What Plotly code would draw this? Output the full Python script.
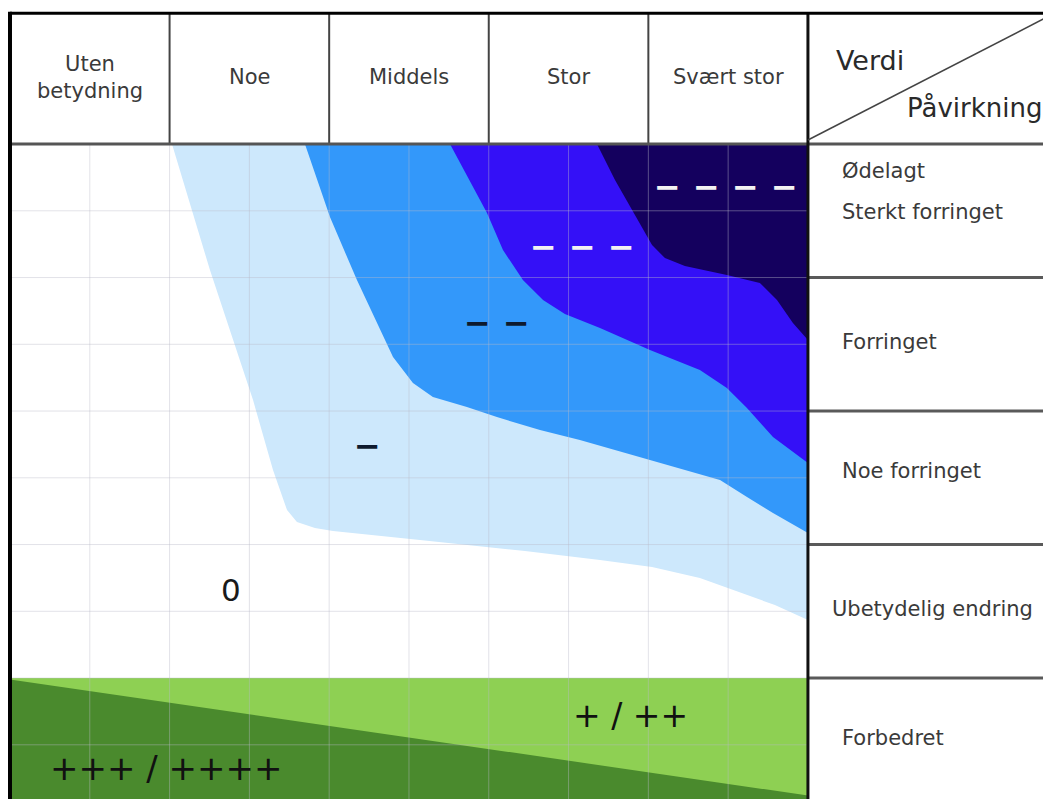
import plotly.graph_objects as go

# ---------------- data ----------------
impact_labels = ["Uten<br>betydning", "Noe", "Middels", "Stor", "Svært stor"]
value_labels = ["Ødelagt", "Sterkt forringet", "Forringet", "Noe forringet",
                "Ubetydelig endring", "Forbedret"]
value_label_y = [4.80, 4.49, 3.52, 2.55, 1.52, 0.55]

# boundaries of the fan (x: impact columns 0..5, y: value rows, 5 = top)
light_x = [1.015, 1.253, 1.523, 1.648, 1.736, 1.798, 1.911, 2.024, 2.569, 3.227,
           3.697, 4.023, 4.323, 4.574, 4.793, 5.0]
light_y = [5.0, 4.056, 3.082, 2.558, 2.258, 2.169, 2.124, 2.101, 2.034, 1.951,
           1.884, 1.831, 1.749, 1.644, 1.547, 1.434]

medium_x = [1.848, 2.005, 2.174, 2.299, 2.400, 2.525, 2.650, 2.863, 3.051, 3.321,
            3.571, 4.010, 4.449, 4.618, 4.781, 5.0]
medium_y = [5.0, 4.453, 3.981, 3.659, 3.404, 3.210, 3.105, 3.030, 2.955, 2.858,
            2.783, 2.633, 2.483, 2.356, 2.236, 2.086]

strong_x = [2.757, 2.989, 3.089, 3.214, 3.340, 3.477, 3.697, 4.010, 4.323, 4.492,
            4.618, 4.781, 5.0]
strong_y = [5.0, 4.483, 4.206, 3.981, 3.831, 3.727, 3.622, 3.457, 3.307, 3.172,
            3.022, 2.805, 2.610]

severe_x = [3.678, 3.791, 3.916, 4.023, 4.104, 4.229, 4.492, 4.699, 4.806, 4.906, 5.0]
severe_y = [5.0, 4.730, 4.468, 4.243, 4.146, 4.086, 4.019, 3.959, 3.831, 3.659, 3.532]

improve_x = [0, 5, 5, 0]
improve_y = [1.0, 1.0, 0.0, 0.0]
strong_improve_x = [0, 5, 5, 0]
strong_improve_y = [0.99, 0.12, 0.0, 0.0]

SP = "\u2008"
grade_text = ["−" + SP + "−" + SP + "−" + SP + "−", "−" + SP + "−" + SP + "−",
              "−" + SP + "−", "−", "0", "+ / ++", "+++ / ++++"]
grade_x = [4.486, 3.590, 3.051, 2.243, 1.385, 3.891, 0.981]
grade_y = [4.678, 4.228, 3.659, 2.738, 1.659, 0.723, 0.326]

# ---------------- styles ----------------
C_LIGHT = "#CDE8FC"
C_MED = "#3398FA"
C_STRONG = "#3410F7"
C_SEVERE = "#14005E"
C_GREEN_L = "#8ED053"
C_GREEN_D = "#4A8A2D"
FONT = "DejaVu Sans"

X_MAX = 6.523
Y_TOP = 5.98

fig = go.Figure()

def add_fill(xs, ys, color):
    fig.add_trace(go.Scatter(x=xs, y=ys, mode="lines", fill="toself",
                             fillcolor=color, line=dict(width=0, color=color),
                             hoverinfo="skip", showlegend=False))

add_fill(light_x + [5.0], light_y + [5.0], C_LIGHT)
add_fill(medium_x + [5.0], medium_y + [5.0], C_MED)
add_fill(strong_x + [5.0], strong_y + [5.0], C_STRONG)
add_fill(severe_x + [5.0], severe_y + [5.0], C_SEVERE)
add_fill(improve_x, improve_y, C_GREEN_L)
add_fill(strong_improve_x, strong_improve_y, C_GREEN_D)

shapes = []
grid_col = "rgba(185,185,200,0.42)"
for i in range(1, 10):
    shapes.append(dict(type="line", x0=i * 0.5, x1=i * 0.5, y0=-1, y1=5,
                       line=dict(color=grid_col, width=1)))
for j in range(0, 10):
    shapes.append(dict(type="line", x0=0, x1=5, y0=j * 0.5, y1=j * 0.5,
                       line=dict(color=grid_col, width=1)))
for i in range(1, 5):
    shapes.append(dict(type="line", x0=i, x1=i, y0=5, y1=Y_TOP,
                       line=dict(color="#444444", width=2)))
for j in range(1, 5):
    shapes.append(dict(type="line", x0=5, x1=X_MAX + 0.1, y0=j, y1=j,
                       line=dict(color="#5a5a5a", width=3)))
shapes.append(dict(type="line", x0=0, x1=X_MAX + 0.1, y0=5, y1=5,
                   line=dict(color="#555555", width=3)))
shapes.append(dict(type="line", x0=5, x1=5, y0=-1, y1=Y_TOP,
                   line=dict(color="#111111", width=3)))
shapes.append(dict(type="line", x0=0, x1=0, y0=-1, y1=Y_TOP + 0.01,
                   line=dict(color="#000000", width=4)))
shapes.append(dict(type="line", x0=0, x1=X_MAX + 0.1, y0=Y_TOP, y1=Y_TOP,
                   line=dict(color="#000000", width=3)))
shapes.append(dict(type="line", x0=5.0, x1=X_MAX, y0=5.03, y1=5.966,
                   line=dict(color="#444444", width=1.5)))

annotations = []
for i, lab in enumerate(impact_labels):
    annotations.append(dict(x=i + 0.5, y=5.5, text=lab, showarrow=False,
                            font=dict(family=FONT, size=21, color="#3a3a3a"),
                            xanchor="center", yanchor="middle"))
for lab, yy in zip(value_labels, value_label_y):
    xx = 5.2 if lab != "Ubetydelig endring" else 5.14
    annotations.append(dict(x=xx, y=yy, text=lab, showarrow=False,
                            font=dict(family=FONT, size=21, color="#3a3a3a"),
                            xanchor="left", yanchor="middle"))
annotations.append(dict(x=5.388, y=5.629, text="Verdi", showarrow=False,
                        font=dict(family=FONT, size=27, color="#2a2a2a"),
                        xanchor="center", yanchor="middle"))
annotations.append(dict(x=6.046, y=5.27, text="Påvirkning", showarrow=False,
                        font=dict(family=FONT, size=26, color="#2a2a2a"),
                        xanchor="center", yanchor="middle"))

grade_style = [
    dict(size=32, color="#F2F2F2", bold=True),
    dict(size=32, color="#F2F2F2", bold=True),
    dict(size=32, color="#0E1A2E", bold=True),
    dict(size=32, color="#0E1A2E", bold=True),
    dict(size=31, color="#1a1a1a", bold=False),
    dict(size=33, color="#111111", bold=False),
    dict(size=34, color="#111111", bold=False),
]
for t, xx, yy, st in zip(grade_text, grade_x, grade_y, grade_style):
    txt = "<b>" + t + "</b>" if st["bold"] else t
    annotations.append(dict(x=xx, y=yy, text=txt, showarrow=False,
                            font=dict(family=FONT, size=st["size"], color=st["color"]),
                            xanchor="center", yanchor="middle"))

# the page adds an 8px body margin: the figure is sized/ranged to compensate
fig.update_layout(
    width=1043, height=791,
    margin=dict(l=0, r=0, t=0, b=0),
    paper_bgcolor="white", plot_bgcolor="white",
    xaxis=dict(range=[-0.0125, X_MAX], visible=False, fixedrange=True),
    yaxis=dict(range=[0.094, 6.019], visible=False, fixedrange=True),
    shapes=shapes, annotations=annotations,
    showlegend=False, hovermode=False,
)

fig.write_html("out.html")
